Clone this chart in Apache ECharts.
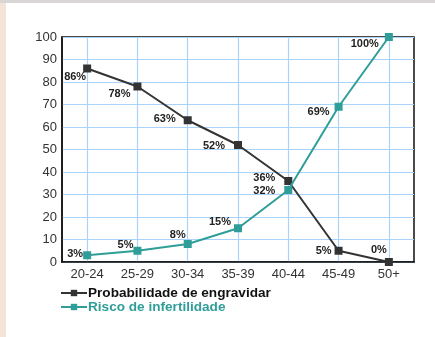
<!DOCTYPE html>
<html>
<head>
<meta charset="utf-8">
<script src="https://cdn.jsdelivr.net/npm/echarts@6/dist/echarts.min.js"></script>
<style>
  html, body { margin: 0; padding: 0; background: #ffffff; }
  #chart { width: 435px; height: 337px; }
</style>
</head>
<body>
<div id="chart"></div>
<script>
// Age groups (years)
const ageGroups = ['20-24', '25-29', '30-34', '35-39', '40-44', '45-49', '50+'];
// Chance of getting pregnant (%)
const pregnancyChance = [86, 78, 63, 52, 36, 5, 0];
// Infertility risk (%)
const infertilityRisk = [3, 5, 8, 15, 32, 69, 100];
const yTicks = { min: 0, max: 100, step: 10 };

const darkColor = '#333333';
const tealColor = '#2f9e98';

// Per-point label placement for each line
const pregLabelPos = [
  { position: 'left', offset: [6, 8] },
  { position: 'left', offset: [0, 7] },
  { position: 'left', offset: [-5, -1] },
  { position: 'left', offset: [-6, 1] },
  { position: 'left', offset: [-6, -3] },
  { position: 'left', offset: [0, 0] },
  { position: 'top', offset: [-10, 0] }
];
const infLabelPos = [
  { position: 'left', offset: [3, -1] },
  { position: 'left', offset: [3, -6] },
  { position: 'top', offset: [-10, 3] },
  { position: 'left', offset: [0, -6] },
  { position: 'left', offset: [-6, 1] },
  { position: 'left', offset: [-2, 5] },
  { position: 'left', offset: [-3, 7] }
];

function buildData(values, placements) {
  return values.map((v, i) => ({
    value: v,
    label: { position: placements[i].position, offset: placements[i].offset }
  }));
}

const chart = echarts.init(document.getElementById('chart'), null, { renderer: 'canvas' });

chart.setOption({
  backgroundColor: '#ffffff',
  animation: false,
  graphic: [
    { type: 'rect', shape: { x: 0, y: 0, width: 6, height: 337 }, style: { fill: '#f4e3d7' }, z: -10 },
    { type: 'rect', shape: { x: 0, y: 0, width: 435, height: 3 }, style: { fill: '#d9d5d4' }, z: -10 }
  ],
  grid: {
    left: 62, right: 21, top: 37, bottom: 75,
    show: true, borderColor: '#111111', borderWidth: 1.5, backgroundColor: 'transparent'
  },
  legend: {
    orient: 'vertical',
    left: 55, top: 281,
    itemWidth: 26, itemHeight: 8, itemGap: 0,
    textStyle: { fontFamily: 'Liberation Sans, Arial, sans-serif', fontWeight: 'bold', fontSize: 13.6, padding: [0, 0, 0, -4] },
    data: [
      { name: 'Probabilidade de engravidar', textStyle: { color: '#111111' } },
      { name: 'Risco de infertilidade', textStyle: { color: tealColor } }
    ]
  },
  xAxis: {
    type: 'category',
    data: ageGroups,
    boundaryGap: true,
    axisLine: { lineStyle: { color: '#111111', width: 1.5 } },
    axisTick: { show: false },
    splitLine: { show: true, alignWithLabel: true, lineStyle: { color: '#a9d3fb', width: 1.2 } },
    axisLabel: { color: '#333333', fontSize: 13, fontFamily: 'Liberation Sans, Arial, sans-serif', margin: 6 }
  },
  yAxis: {
    type: 'value',
    min: yTicks.min, max: yTicks.max, interval: yTicks.step,
    axisLine: { show: true, lineStyle: { color: '#111111', width: 1.5 } },
    axisTick: { show: false },
    splitLine: { lineStyle: { color: '#a9d3fb', width: 1.2 } },
    axisLabel: { color: '#333333', fontSize: 13, fontFamily: 'Liberation Sans, Arial, sans-serif', margin: 5 }
  },
  series: [
    {
      name: 'Probabilidade de engravidar',
      type: 'line',
      data: buildData(pregnancyChance, pregLabelPos),
      color: darkColor,
      symbol: 'rect', symbolSize: 8,
      lineStyle: { color: darkColor, width: 2 },
      itemStyle: { color: darkColor },
      label: {
        show: true, formatter: '{c}%', color: '#222222', fontSize: 11,
        fontWeight: 'bold', fontFamily: 'Liberation Sans, Arial, sans-serif', distance: 3
      },
      z: 3
    },
    {
      name: 'Risco de infertilidade',
      type: 'line',
      data: buildData(infertilityRisk, infLabelPos),
      color: tealColor,
      symbol: 'rect', symbolSize: 8,
      lineStyle: { color: tealColor, width: 2 },
      itemStyle: { color: tealColor },
      label: {
        show: true, formatter: '{c}%', color: '#222222', fontSize: 11,
        fontWeight: 'bold', fontFamily: 'Liberation Sans, Arial, sans-serif', distance: 3
      },
      z: 4
    }
  ]
});
</script>
</body>
</html>
